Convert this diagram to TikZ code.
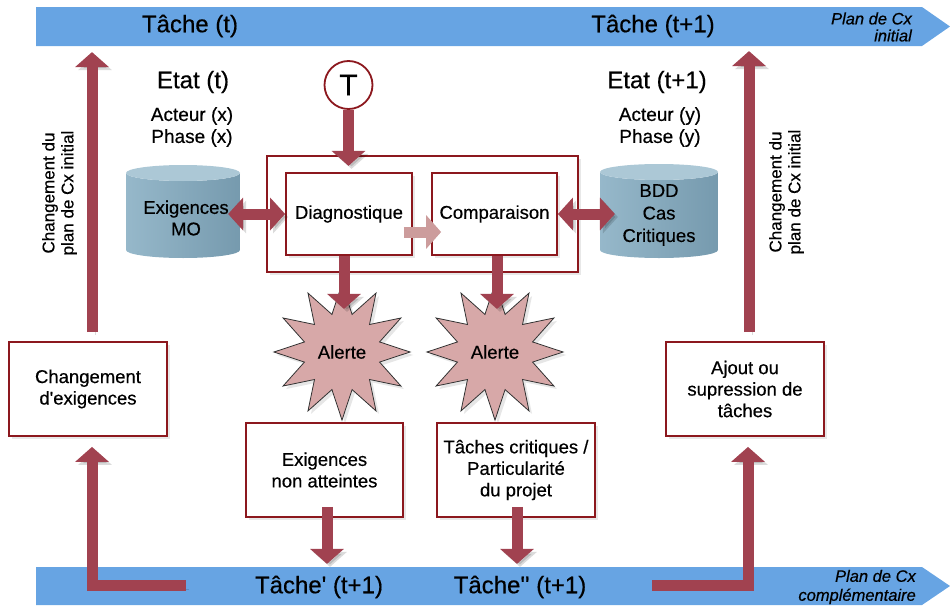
\documentclass[tikz,border=0pt]{standalone}
\usepackage{fontspec}
\setmainfont{Liberation Sans}[FakeBold=0.45]
\usetikzlibrary{arrows.meta,shapes.geometric,shadows,calc}
\definecolor{bandblue}{RGB}{103,164,227}
\definecolor{arrowred}{RGB}{161,66,80}
\definecolor{boxred}{RGB}{140,24,30}
\definecolor{starpink}{RGB}{215,168,168}
\definecolor{pinkarrow}{RGB}{204,156,156}
\definecolor{cylA}{RGB}{150,184,202}
\definecolor{cylB}{RGB}{118,154,174}
\definecolor{cylTop}{RGB}{172,200,214}
\newcommand{\fsz}[2]{\fontsize{#1}{#2}\selectfont}
\begin{document}
\begin{tikzpicture}[x=1pt,y=-1pt,
  bigarrow/.style={draw=arrowred, line width=11pt, -{Triangle[width=33pt,length=15pt]},
    preaction={draw=black, opacity=0.14, transform canvas={shift={(3pt,-3pt)}}}},
  dblarrow/.style={draw=arrowred, line width=11pt, {Triangle[width=32pt,length=15pt]}-{Triangle[width=32pt,length=15pt]},
    preaction={draw=black, opacity=0.14, transform canvas={shift={(3pt,-3pt)}}}},
  pinkarr/.style={draw=pinkarrow, line width=11pt, -{Triangle[width=33pt,length=15pt]}},
  rbox/.style={draw=boxred, line width=1.8pt, fill=white, align=center, inner sep=2pt,
    font=\fsz{18.5}{21.5}, drop shadow={opacity=0.18, shadow xshift=2.5pt, shadow yshift=-2.5pt}},
  txt/.style={align=center, inner sep=0pt},
  alerte/.style={star, star points=12, star point ratio=1.75, minimum size=134pt, draw=black!80,
    line width=0.8pt, fill=starpink, font=\fsz{18.5}{21.5},
    drop shadow={opacity=0.2, shadow xshift=3pt, shadow yshift=-3pt}},
  band/.style={fill=bandblue}
]
\useasboundingbox (0,0) rectangle (950,605);

% bands
\fill[band] (36,7) -- (922,7) -- (950,26.5) -- (922,46) -- (36,46) -- cycle;
\fill[band] (36,567) -- (922,567) -- (950,586) -- (922,605) -- (36,605) -- cycle;
\node[txt, font=\fsz{24}{26}] (t1) at (190,26) {Tâche (t)};
\node[txt, font=\fsz{24}{26}] (t2) at (653,26) {Tâche (t+1)};
\node[txt, anchor=east, align=right, font=\itshape\fsz{16.5}{17}] (plan1) at (912,27) {Plan de Cx\\initial};
\node[txt, font=\fsz{24}{26}] (t3) at (319,587) {Tâche\textquotesingle{} (t+1)};
\node[txt, font=\fsz{24}{26}] (t4) at (520,587) {Tâche\textquotesingle\textquotesingle{} (t+1)};
\node[txt, anchor=east, align=right, font=\itshape\fsz{16.5}{19}] (plan2) at (916,587) {Plan de Cx\\complémentaire};

% etats
\node[txt, font=\fsz{24}{26}] (e1) at (193,82) {Etat (t)};
\node[txt, font=\fsz{19}{22}] (a1) at (192,127) {Acteur (x)\\Phase (x)};
\node[txt, font=\fsz{24}{26}] (e2) at (657,82) {Etat (t+1)};
\node[txt, font=\fsz{19}{22}] (a2) at (660,127) {Acteur (y)\\Phase (y)};

% cylinders
\shade[left color=cylA, right color=cylB] (126,173) -- (126,250)
  arc[start angle=180, end angle=0, x radius=57, y radius=8] -- (240,173)
  arc[start angle=0, end angle=180, x radius=57, y radius=8] -- cycle;
\fill[cylTop] (183,173) ellipse[x radius=57, y radius=8];
\shade[left color=cylA, right color=cylB] (600,172) -- (600,250)
  arc[start angle=180, end angle=0, x radius=59, y radius=8] -- (718,172)
  arc[start angle=0, end angle=180, x radius=59, y radius=8] -- cycle;
\fill[cylTop] (659,172) ellipse[x radius=59, y radius=8];
\node[txt, font=\fsz{18.5}{21.5}] (exig) at (186,218) {Exigences\\MO};
\node[txt, font=\fsz{18.5}{22.5}] (bdd) at (659,215) {BDD\\Cas\\Critiques};

% central boxes
\node[rbox, minimum width=311pt, minimum height=116pt] (outer) at (422.5,214) {};
\node[rbox, minimum width=126pt, minimum height=82pt] (diag) at (349,214) {Diagnostique};
\node[rbox, minimum width=125pt, minimum height=82pt] (comp) at (494.5,214) {Comparaison};

% T
\node[circle, draw=boxred, line width=1.8pt, fill=white, minimum size=48pt, inner sep=0pt,
  font=\fsz{30}{30}] (T) at (348.5,85) {T};
\draw[bigarrow] (T.south) -- ($(T.south)+(0,56)$);

% arrows around central boxes
\draw[dblarrow] ($(diag.west)+(-57,0)$) -- (diag.west);
\draw[dblarrow] (comp.east) -- ($(comp.east)+(57,0)$);
\draw[pinkarr] ($(diag.east)+(-9,18)$) -- ($(comp.west)+(10,18)$);

% alerts
\node[alerte] (al1) at (342,352) {Alerte};
\node[alerte] (al2) at (495,352) {Alerte};
\draw[bigarrow] ($(diag.south)+(-5,0)$) -- ($(diag.south)+(-5,53)$);
\draw[bigarrow] ($(comp.south)+(2.5,0)$) -- ($(comp.south)+(2.5,53)$);

% lower boxes
\node[rbox, minimum width=157pt, minimum height=94pt] (b1) at (324.5,470) {Exigences\\non atteintes};
\node[rbox, minimum width=158pt, minimum height=94pt] (b2) at (516,470) {Tâches critiques /\\Particularité\\du projet};
\draw[bigarrow] ($(b1.south)+(2.5,-11)$) -- ($(b1.south)+(2.5,46)$);
\draw[bigarrow] ($(b2.south)+(1,-11)$) -- ($(b2.south)+(1,46)$);

% side boxes
\node[rbox, minimum width=158pt, minimum height=94pt] (lbox) at (88,389) {Changement\\d\textquotesingle exigences};
\node[rbox, minimum width=158pt, minimum height=94pt] (rbx) at (745,389) {Ajout ou\\supression de\\tâches};

\draw[bigarrow] ($(lbox.north)+(4,-9)$) -- ($(lbox.north)+(4,-289)$);
\draw[bigarrow] ($(rbx.north)+(4,-9)$) -- ($(rbx.north)+(4,-290)$);
\draw[bigarrow] ($(lbox.south)+(98,149)$) -- ($(lbox.south)+(4,149)$) -- ($(lbox.south)+(4,10)$);
\draw[bigarrow] ($(rbx.south)+(-93,149)$) -- ($(rbx.south)+(3,149)$) -- ($(rbx.south)+(3,10)$);

% vertical labels
\node[txt, rotate=90, font=\fsz{17}{19}] (cl) at (59.5,193) {Changement du\\plan de Cx initial};
\node[txt, rotate=90, font=\fsz{17}{19}] (cr) at (786.5,192) {Changement du\\plan de Cx initial};
\end{tikzpicture}
\end{document}
